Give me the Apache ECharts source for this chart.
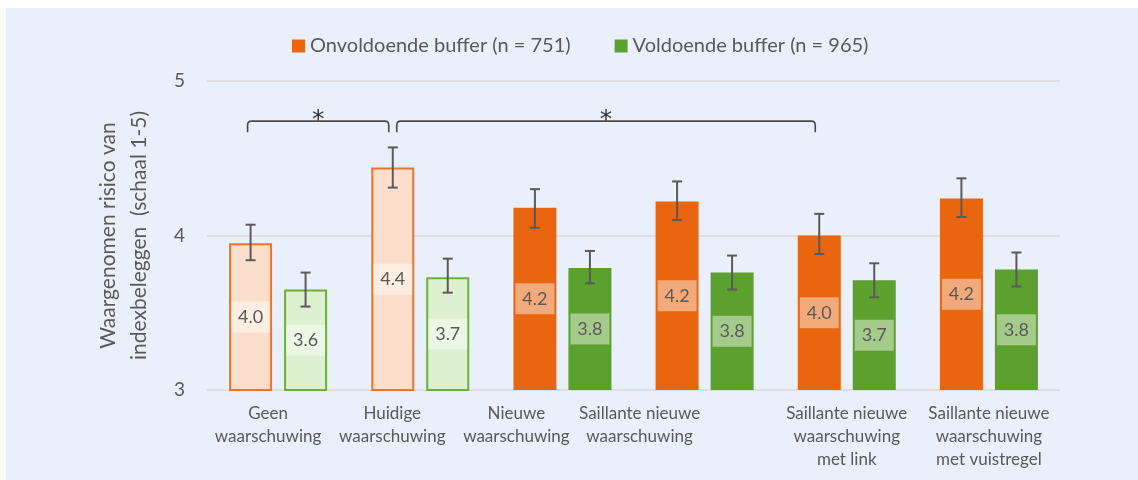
<!DOCTYPE html>
<html>
<head>
<meta charset="utf-8">
<script src="https://cdn.jsdelivr.net/npm/echarts@6/dist/echarts.min.js"></script>
<style>
  html, body { margin: 0; padding: 0; background: #ffffff; }
  #bg { position: absolute; left: 6px; top: 8px; right: 0; bottom: 0; background: #e9f0fb; }
  #chart { position: absolute; left: 0; top: 0; width: 1138px; height: 480px; }
</style>
</head>
<body>
<div id="bg"></div>
<div id="chart"></div>
<script>
// ---- data ----
var categories = [
  'Geen\nwaarschuwing',
  'Huidige\nwaarschuwing',
  'Nieuwe\nwaarschuwing',
  'Saillante nieuwe\nwaarschuwing',
  'Saillante nieuwe\nwaarschuwing\nmet link',
  'Saillante nieuwe\nwaarschuwing\nmet vuistregel'
];
var seriesNames = ['Onvoldoende buffer (n = 751)', 'Voldoende buffer (n = 965)'];
var onvoldoende = [3.95, 4.44, 4.18, 4.22, 4.00, 4.24];
var voldoende   = [3.65, 3.73, 3.79, 3.76, 3.71, 3.78];
var onvoldoendeLow  = [3.84, 4.31, 4.05, 4.10, 3.88, 4.12];
var onvoldoendeHigh = [4.07, 4.57, 4.30, 4.35, 4.14, 4.37];
var voldoendeLow    = [3.54, 3.63, 3.69, 3.65, 3.60, 3.67];
var voldoendeHigh   = [3.76, 3.85, 3.90, 3.87, 3.82, 3.89];
var outlinedCategories = [0, 1];          // categories drawn as outlined (light) bars
var brackets = [[0, 1, 4.74], [1, 4, 4.74]]; // [from category, to category, level]
var bracketMarks = ['*', '*'];
var yTicks = [3, 4, 5];

// ---- styles ----
var ORANGE = '#e9650f', GREEN = '#5ca12d';
var ORANGE_LIGHT = '#fbdfcc', ORANGE_EDGE = '#f07323';
var GREEN_LIGHT = '#ddf0d0', GREEN_EDGE = '#6ab237';
var TEXT = '#595959';
var FONT = 'Lato, "Open Sans", sans-serif';
var BAR_W = 43, BAR_GAP = 12;
var HALF = (BAR_W + BAR_GAP) / 2;
var labelShift = [20, 56, 92, 130, 0, 0]; // right padding to nudge labels left

function barData(vals, light, edge) {
  return vals.map(function (v, i) {
    if (outlinedCategories.indexOf(i) >= 0) {
      return { value: v, itemStyle: { color: light, borderColor: edge, borderWidth: 2 } };
    }
    return { value: v };
  });
}

var valueLabel = {
  show: true,
  position: 'inside',
  formatter: function (p) { return p.value.toFixed(1); },
  color: TEXT,
  fontFamily: FONT,
  fontSize: 18,
  lineHeight: 19,
  width: 27,
  align: 'center',
  backgroundColor: 'rgba(255,255,255,0.45)',
  padding: [6, 6]
};

function errData(lo, hi) {
  return lo.map(function (l, i) { return [i, l, hi[i]]; });
}

function errRender(dx) {
  return function (params, api) {
    var c = api.value(0);
    var p1 = api.coord([c, api.value(1)]);
    var p2 = api.coord([c, api.value(2)]);
    var x = p1[0] + dx;
    var st = { stroke: '#5a5a5a', lineWidth: 2 };
    return {
      type: 'group',
      children: [
        { type: 'line', shape: { x1: x, y1: p1[1], x2: x, y2: p2[1] }, style: st },
        { type: 'line', shape: { x1: x - 5, y1: p1[1], x2: x + 5, y2: p1[1] }, style: st },
        { type: 'line', shape: { x1: x - 5, y1: p2[1], x2: x + 5, y2: p2[1] }, style: st }
      ]
    };
  };
}

var chart = echarts.init(document.getElementById('chart'), null, { renderer: 'canvas' });

var option = {
  backgroundColor: 'transparent',
  animation: false,
  textStyle: { fontFamily: FONT },
  legend: {
    top: 31,
    left: 287,
    itemWidth: 13,
    itemHeight: 13,
    itemGap: 44,
    icon: 'rect',
    textStyle: { color: TEXT, fontSize: 20, fontFamily: FONT },
    data: [
      { name: seriesNames[0], itemStyle: { color: ORANGE } },
      { name: seriesNames[1], itemStyle: { color: GREEN } }
    ]
  },
  grid: { left: 207, right: 78, top: 81, bottom: 90 },
  xAxis: {
    type: 'category',
    data: categories,
    axisLine: { show: false },
    axisTick: { show: false },
    axisLabel: {
      interval: 0,
      margin: 12,
      hideOverlap: false,
      formatter: function (v, i) {
        return v.split('\n').map(function (l) { return '{s' + i + '|' + l + '}'; }).join('\n');
      },
      rich: (function () {
        var r = {};
        for (var i = 0; i < categories.length; i++) {
          r['s' + i] = { color: TEXT, fontSize: 17, lineHeight: 23, fontFamily: FONT, padding: [0, labelShift[i], 0, 0] };
        }
        return r;
      })()
    }
  },
  yAxis: {
    type: 'value',
    min: yTicks[0],
    max: yTicks[yTicks.length - 1],
    interval: 1,
    name: 'Waargenomen risico van\nindexbeleggen  (schaal 1-5)',
    nameLocation: 'middle',
    nameGap: 52,
    nameRotate: 90,
    nameTextStyle: { color: TEXT, fontSize: 21, lineHeight: 31, fontFamily: FONT },
    axisLine: { show: false },
    axisTick: { show: false },
    axisLabel: { color: TEXT, fontSize: 19, margin: 22, fontFamily: FONT },
    splitLine: { show: true, lineStyle: { color: '#e0dce0', width: 2 } }
  },
  series: [
    {
      name: seriesNames[0],
      type: 'bar',
      barWidth: BAR_W,
      barGap: (BAR_GAP / BAR_W * 100) + '%',
      itemStyle: { color: ORANGE },
      label: valueLabel,
      data: barData(onvoldoende, ORANGE_LIGHT, ORANGE_EDGE),
      z: 2
    },
    {
      name: seriesNames[1],
      type: 'bar',
      barWidth: BAR_W,
      itemStyle: { color: GREEN },
      label: valueLabel,
      data: barData(voldoende, GREEN_LIGHT, GREEN_EDGE),
      z: 2
    },
    {
      type: 'custom',
      renderItem: errRender(-HALF),
      data: errData(onvoldoendeLow, onvoldoendeHigh),
      z: 5, silent: true, tooltip: { show: false }
    },
    {
      type: 'custom',
      renderItem: errRender(HALF),
      data: errData(voldoendeLow, voldoendeHigh),
      z: 5, silent: true, tooltip: { show: false }
    },
    {
      type: 'custom',
      data: brackets,
      z: 5, silent: true,
      renderItem: function (params, api) {
        var i = params.dataIndex;
        var a = api.coord([api.value(0), api.value(2)]);
        var b = api.coord([api.value(1), api.value(2)]);
        var x1 = a[0] - HALF + (i === 0 ? -3 : 4);
        var x2 = b[0] - HALF - 4;
        var y = a[1], leg = 11, r = 4;
        var path = 'M' + x1 + ',' + (y + leg) + ' L' + x1 + ',' + (y + r) +
          ' Q' + x1 + ',' + y + ' ' + (x1 + r) + ',' + y +
          ' L' + (x2 - r) + ',' + y +
          ' Q' + x2 + ',' + y + ' ' + x2 + ',' + (y + r) +
          ' L' + x2 + ',' + (y + leg);
        return {
          type: 'group',
          children: [
            { type: 'path', shape: { pathData: path }, style: { stroke: '#4a4a4a', lineWidth: 1.6, fill: null } },
            { type: 'text', style: { text: bracketMarks[i], x: (x1 + x2) / 2, y: y - 1, align: 'center', verticalAlign: 'middle', fontSize: 25, fill: '#333', fontFamily: '"DejaVu Sans", sans-serif' } }
          ]
        };
      }
    }
  ]
};
chart.setOption(option);
</script>
</body>
</html>
